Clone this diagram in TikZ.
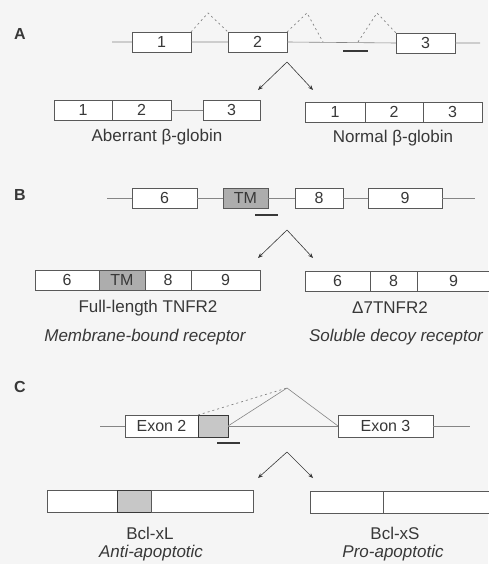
\documentclass[tikz,border=0pt]{standalone}
\usepackage{fontspec}
\setmainfont{Liberation Sans}
\usetikzlibrary{arrows.meta,positioning}
\definecolor{paper}{gray}{0.96}
\definecolor{ink}{gray}{0.22}
\definecolor{rule}{gray}{0.35}
\definecolor{intronline}{gray}{0.52}
\definecolor{tmgray}{gray}{0.68}
\definecolor{bclgray}{gray}{0.78}

\tikzset{
  exon/.style={draw=rule, fill=white, line width=0.8pt, minimum height=20pt,
    inner sep=0pt, outer sep=0pt, text=ink, font=\fontsize{16}{16}\selectfont},
  tmexon/.style={exon, fill=tmgray},
  intron/.style={draw=intronline, line width=0.6pt},
  splice/.style={draw=intronline, line width=0.7pt, dash pattern=on 2pt off 3pt},
  probe/.style={draw=ink, line width=1.2pt},
  fork/.style={draw=ink, line width=0.6pt, -{Stealth[length=5pt,width=4pt]}},
  caption/.style={text=ink, inner sep=0pt, font=\fontsize{17}{17}\selectfont},
  role/.style={text=ink, inner sep=0pt, font=\fontsize{17}{17}\selectfont\itshape},
  panel/.style={text=ink, inner sep=0pt, font=\fontsize{16}{16}\selectfont\bfseries},
}

\begin{document}
\begin{tikzpicture}[x=1pt,y=-1pt]
  \fill[paper] (0,0) rectangle (488,564);
  \useasboundingbox (0,0) rectangle (488,564);

  % --- A: beta-globin ---
  \node[panel] (lA) at (20,34) {A};
  \node[exon, minimum width=59pt] (a1) at (161.5,42) {1};
  \node[exon, minimum width=59pt] (a2) at (257.5,42) {2};
  \node[exon, minimum width=59pt] (a3) at (425.5,43) {3};
  \coordinate (a0) at (112,42);
  \coordinate (a4) at (480,43);
  \draw[intron] (a0) -- (a1.west) (a1.east) -- (a2.west)
    (a2.east) -- (a3.west) (a3.east) -- (a4);
  \coordinate (aup1) at (208,13);
  \coordinate (aup2) at (307,13);
  \coordinate (aup3) at (377,13);
  \coordinate (acr1) at (323,42);
  \coordinate (acr2) at (358,42);
  \draw[splice] (a1.north east) -- (aup1) -- (a2.north west);
  \draw[splice] (a2.north east) -- (aup2) -- (acr1);
  \draw[splice] (acr2) -- (aup3) -- (a3.north west);
  \draw[probe] (343,51) -- (368,51);
  \coordinate (fA) at (287,62);
  \coordinate (fAl) at (258,90);
  \coordinate (fAr) at (313,90);
  \draw[fork] (fA) -- (fAl);
  \draw[fork] (fA) -- (fAr);

  \node[exon, minimum width=58pt] (ab1) at (83,110) {1};
  \node[exon, minimum width=59pt, right=0pt of ab1] (ab2) {2};
  \node[exon, minimum width=57pt] (ab3) at (231.5,110) {3};
  \draw[intron] (ab2) -- (ab3);
  \node[caption] (abtxt) at (157,137) {Aberrant β-globin};

  \node[exon, minimum width=60pt] (no1) at (335,112) {1};
  \node[exon, minimum width=58pt, right=0pt of no1] (no2) {2};
  \node[exon, minimum width=59pt, right=0pt of no2] (no3) {3};
  \node[caption] (notxt) at (393,138) {Normal β-globin};

  % --- B: TNFR2 ---
  \node[panel] (lB) at (20,195) {B};
  \node[exon, minimum width=65pt] (b6) at (164.5,198) {6};
  \node[tmexon, minimum width=45pt] (bTM) at (245.5,198) {TM};
  \node[exon, minimum width=48pt] (b8) at (319,198) {8};
  \node[exon, minimum width=74pt] (b9) at (405,198) {9};
  \coordinate (b0) at (107,198);
  \coordinate (b10) at (475,198);
  \draw[intron] (b0) -- (b6.west) (b6.east) -- (bTM.west) (bTM.east) -- (b8.west)
    (b8.east) -- (b9.west) (b9.east) -- (b10);
  \draw[probe] (255,215) -- (278,215);
  \coordinate (fB) at (287,230);
  \coordinate (fBl) at (258,258);
  \coordinate (fBr) at (313,258);
  \draw[fork] (fB) -- (fBl);
  \draw[fork] (fB) -- (fBr);

  \node[exon, minimum width=64pt] (fl6) at (67,280) {6};
  \node[tmexon, minimum width=46pt, right=0pt of fl6] (flTM) {TM};
  \node[exon, minimum width=46pt, right=0pt of flTM] (fl8) {8};
  \node[exon, minimum width=69pt, right=0pt of fl8] (fl9) {9};
  \node[caption] (fltxt) at (148,308) {Full-length TNFR2};
  \node[role] (flrole) at (145,337) {Membrane-bound receptor};

  \node[exon, minimum width=65pt] (d6) at (337.5,281) {6};
  \node[exon, minimum width=47pt, right=0pt of d6] (d8) {8};
  \node[exon, minimum width=73pt, right=0pt of d8] (d9) {9};
  \node[caption] (dtxt) at (390,308) {Δ7TNFR2};
  \node[role] (drole) at (396,337) {Soluble decoy receptor};

  % --- C: Bcl-x ---
  \node[panel] (lC) at (20,387) {C};
  \node[exon, minimum width=73pt, minimum height=22pt] (ex2) at (161.5,426) {Exon 2};
  \node[exon, minimum width=30pt, minimum height=22pt, fill=bclgray, draw=ink,
    right=0pt of ex2] (xl) {};
  \node[exon, minimum width=95pt, minimum height=22pt] (ex3) at (385.5,426) {Exon 3};
  \coordinate (c0) at (100,426);
  \coordinate (c4) at (470,426);
  \draw[intron] (c0) -- (ex2.west) (xl.east) -- (ex3.west) (ex3.east) -- (c4);
  \coordinate (cup) at (287,388);
  \draw[splice] (xl.north west) -- (cup);
  \draw[intron] (xl.east) -- (cup) -- (ex3.west);
  \draw[probe] (217,443) -- (240,443);
  \coordinate (fC) at (287,452);
  \coordinate (fCl) at (258,478);
  \coordinate (fCr) at (313,478);
  \draw[fork] (fC) -- (fCl);
  \draw[fork] (fC) -- (fCr);

  \node[exon, minimum width=70pt, minimum height=22pt] (L1) at (82,501) {};
  \node[exon, minimum width=34pt, minimum height=22pt, fill=bclgray, draw=ink,
    right=0pt of L1] (L2) {};
  \node[exon, minimum width=102pt, minimum height=22pt, right=0pt of L2] (L3) {};
  \node[caption] (Ltxt) at (150,533) {Bcl-xL};
  \node[role] (Lrole) at (151,553) {Anti-apoptotic};

  \node[exon, minimum width=73pt, minimum height=22pt] (S1) at (346.5,502) {};
  \node[exon, minimum width=107pt, minimum height=22pt, right=0pt of S1] (S2) {};
  \node[caption] (Stxt) at (395,533) {Bcl-xS};
  \node[role] (Srole) at (393,553) {Pro-apoptotic};
\end{tikzpicture}
\end{document}
